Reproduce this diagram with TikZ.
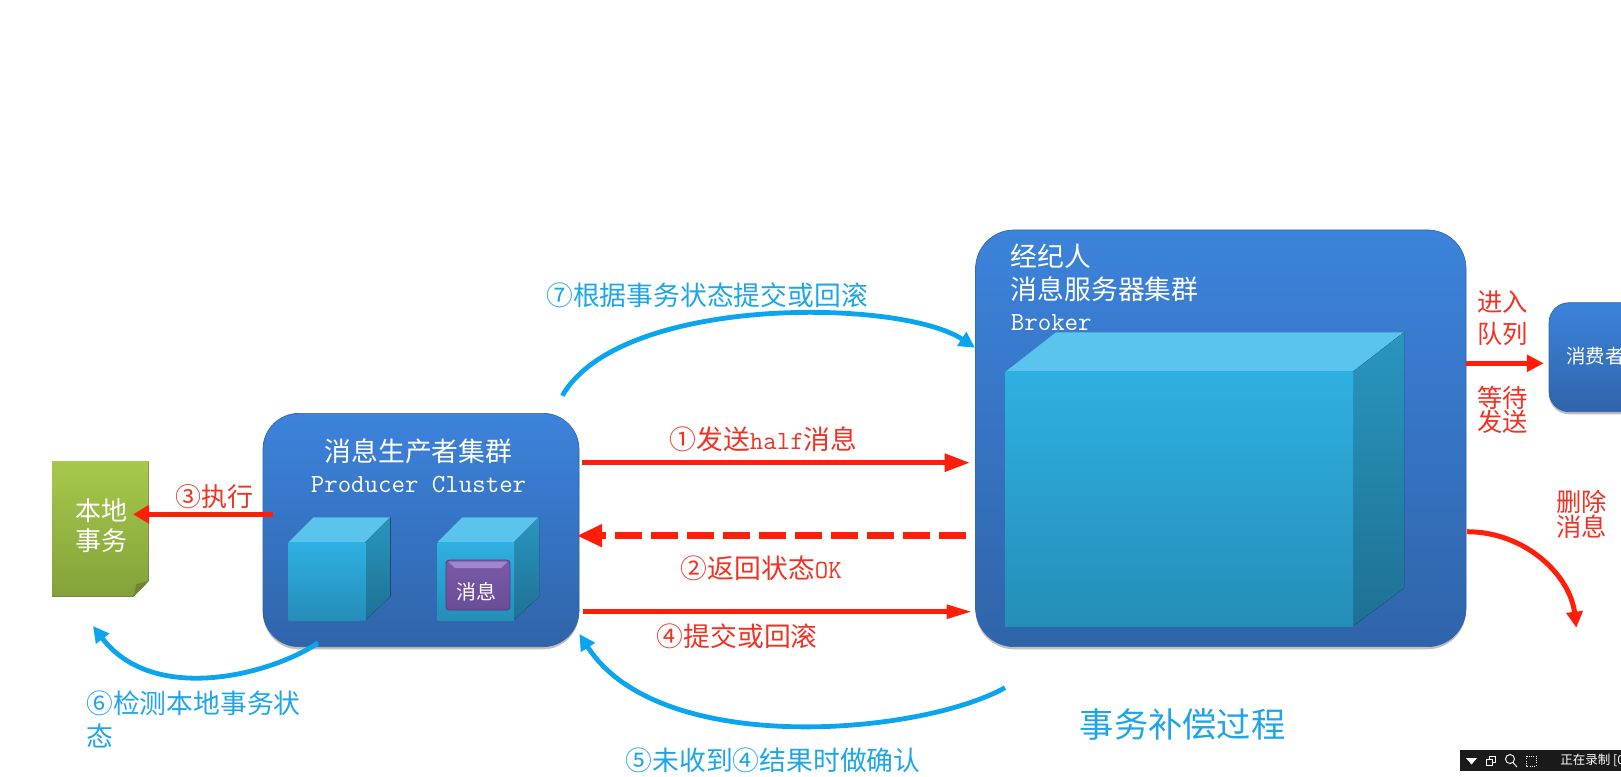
\documentclass[tikz,border=0pt]{standalone}
\usepackage{fontspec}
\usepackage{xcolor}
\usetikzlibrary{arrows.meta,shadows}
\newfontfamily\cjk{Noto Sans CJK SC}
\newcommand{\lat}[1]{{\fontsize{19.6}{24}\selectfont\ttfamily #1}}
\definecolor{boxtop}{RGB}{60,131,219}
\definecolor{boxbottom}{RGB}{47,100,170}
\definecolor{boxedge}{RGB}{46,100,172}
\definecolor{cubetop}{RGB}{91,196,236}
\definecolor{frontup}{RGB}{47,176,226}
\definecolor{frontlow}{RGB}{36,142,184}
\definecolor{sideup}{RGB}{41,150,190}
\definecolor{sidelow}{RGB}{30,112,148}
\definecolor{pagetop}{RGB}{166,201,75}
\definecolor{pagebottom}{RGB}{131,162,58}
\definecolor{pagefold}{RGB}{110,135,48}
\definecolor{msgtop}{RGB}{122,90,168}
\definecolor{msgbottom}{RGB}{106,76,152}
\definecolor{msgedge}{RGB}{80,60,125}
\definecolor{msgbevel}{RGB}{160,135,205}
\definecolor{barblack}{RGB}{26,26,26}
\definecolor{arrowred}{RGB}{255,30,10}
\definecolor{arrowblue}{RGB}{10,165,238}
\definecolor{labelred}{RGB}{240,50,35}
\definecolor{labelblue}{RGB}{30,165,232}
\tikzset{
  bluebox/.style={rectangle,inner sep=0pt,draw=boxedge,line width=0.5pt,top color=boxtop,bottom color=boxbottom,
    drop shadow={shadow xshift=0pt,shadow yshift=-2pt,opacity=0.25,fill=black}},
  cubefront/.style={top color=frontup,bottom color=frontlow},
  cubeface/.style={fill=cubetop},
  cubeside/.style={top color=sideup,bottom color=sidelow},
  redline/.style n args={3}{draw=arrowred,line width=#1,-{Triangle[length=#2,width=#3]}},
  blueline/.style={draw=arrowblue,line width=3.6pt,-{Triangle[length=12pt,width=12pt]}},
  whitetext/.style={inner sep=0pt,text=white,font=\cjk\fontsize{20.1}{24}\selectfont},
  redtext/.style={inner sep=0pt,text=labelred,font=\cjk\fontsize{20.1}{24}\selectfont},
  bluetext/.style={inner sep=0pt,text=labelblue,font=\cjk\fontsize{20.1}{24}\selectfont},
}
\begin{document}
\begin{tikzpicture}[x=0.75pt,y=0.75pt,yscale=-1,xscale=1]
\useasboundingbox (0,0) rectangle (1621,776);
\clip (0,0) rectangle (1621,776);

%Shape: Local transaction page
\fill [top color=pagetop,bottom color=pagebottom] (52,461) -- (148.7,461) -- (148.7,581) -- (133.2,596.7) -- (52,596.7) -- cycle ;
\fill [color=pagefold] (148.7,581) -- (136.4,584) -- (133.2,596.7) -- cycle ;
\node (localtx) at (100.3,529) [minimum width=72.5pt,minimum height=102pt,inner sep=0pt] {};

%Shape: Producer box
\node (producer) at (421,530) [bluebox,rounded corners=27pt,minimum width=237pt,minimum height=175pt] {};
%Shape: Broker box
\node (broker) at (1220.8,438.3) [bluebox,rounded corners=29pt,minimum width=367.8pt,minimum height=312.5pt] {};
%Shape: Consumer box
\node (consumer) at (1629,357.2) [bluebox,rounded corners=15pt,minimum width=120pt,minimum height=81.75pt] {};

%Shape: Producer cubes
\foreach \cx in {288.6,437.3} {
  \fill [cubeface] (\cx,542.3) -- (\cx+25,517.3) -- (\cx+101.7,517.3) -- (\cx+76.7,542.3) -- cycle ;
  \fill [cubeside] (\cx+76.7,542.3) -- (\cx+101.7,517.3) -- (\cx+101.7,596.7) -- (\cx+76.7,620) -- cycle ;
  \fill [cubefront] (\cx,542.3) rectangle (\cx+76.7,620) ;
}
%Shape: Broker cube
\fill [cubeface] (1005.5,371.7) -- (1056,332.3) -- (1404,332.3) -- (1353,371.7) -- cycle ;
\fill [cubeside] (1353,371.7) -- (1404,332.3) -- (1404,588.3) -- (1353,626) -- cycle ;
\fill [cubefront] (1005.5,371.7) rectangle (1353,626) ;

%Shape: Message box
\node (msgbox) at (478,585) [rectangle,inner sep=0pt,rounded corners=2.5pt,minimum width=48pt,minimum height=37.5pt,draw=msgedge,line width=0.6pt,top color=msgtop,bottom color=msgbottom] {};
\fill [color=msgbevel] (448,561.5) -- (508,561.5) -- (501,568) -- (455,568) -- cycle ;

%Straight Lines
\coordinate (halfrow) at (0,462.7);
\coordinate (okrow) at (0,535.7);
\coordinate (commitrow) at (0,611.7);
\coordinate (execrow) at (0,514.3);
\coordinate (queuerow) at (0,363.3);
\draw [redline={3.75pt}{19pt}{13pt}] ([xshift=2pt]producer.east |- halfrow) -- ([xshift=-4pt]broker.west |- halfrow) ;
\draw [redline={5.25pt}{19pt}{16pt},dash pattern=on 20.25pt off 6.75pt] ([xshift=-6.7pt]broker.west |- okrow) -- ([xshift=-2pt]producer.east |- okrow) ;
\draw [redline={3.4pt}{19pt}{10pt}] ([xshift=2.8pt]producer.east |- commitrow) -- ([xshift=-2.5pt]broker.west |- commitrow) ;
\draw [redline={3.75pt}{12pt}{13.5pt}] ([xshift=7.5pt]producer.west |- execrow) -- ([xshift=-11.8pt]localtx.east |- execrow) ;
\draw [redline={3.75pt}{12.75pt}{12.5pt}] (broker.east |- queuerow) -- ([xshift=-3.7pt]consumer.west |- queuerow) ;

%Curved Lines
\coordinate (removestart) at (1467,531.7);
\coordinate (removeend) at (1576.4,627.7);
\draw [redline={3.75pt}{12pt}{12pt}] (removestart) .. controls (1525,531.7) and (1570,575) .. (removeend) ;
\coordinate (pushstart) at (562.3,395.7);
\coordinate (pushend) at (975,347.7);
\draw [blueline] (pushstart) .. controls (620,295) and (900,298) .. (pushend) ;
\coordinate (confirmstart) at (1005,687.7);
\coordinate (confirmend) at (579.4,634);
\draw [blueline] (confirmstart) .. controls (920,735) and (659,758) .. (confirmend) ;
\coordinate (checkstart) at (318,643);
\coordinate (checkend) at (93,626);
\draw [blueline] (checkstart) .. controls (270,675) and (153,705) .. (checkend) ;

%Shape: Recorder bar
\fill [color=barblack] (1460,750) rectangle (1621,770.7) ;
\fill [white] (1466,758) -- (1477,758) -- (1471.5,764.5) -- cycle ;
\draw [white,line width=0.7pt] (1486,759) rectangle (1492,765) (1489,759) -- (1489,756) -- (1495,756) -- (1495,762) -- (1492,762) ;
\draw [white,line width=0.7pt] (1510,759) circle (4.5) (1513,762.5) -- (1517,767) ;
\draw [white,line width=0.7pt,densely dotted] (1526,756) rectangle (1536,766) ;

% Text Node
\node (producertitle) at (418.5,451.7) [whitetext] {消息生产者集群};
% Text Node
\node (producername) at (418.5,485) [whitetext] {\lat{Producer Cluster}};
% Text Node
\node (brokerrole) at (1010.6,256.7) [whitetext,anchor=west] {经纪人};
% Text Node
\node (brokertitle) at (1010.6,289) [whitetext,anchor=west] {消息服务器集群};
% Text Node
\node (brokername) at (1010.6,322.7) [whitetext,anchor=west] {\lat{Broker}};
% Text Node
\node (localtitle) at (101,525.7) [whitetext,align=center,font=\cjk\fontsize{19.5}{22.5}\selectfont] {本地\\事务};
% Text Node
\node (msgtext) at (476.5,591.7) [whitetext,font=\cjk\fontsize{15}{18}\selectfont] {消息};
% Text Node
\node (consumertext) at (1566,355.7) [whitetext,anchor=west,font=\cjk\fontsize{14.6}{18}\selectfont] {消费者};
% Text Node
\node (execlabel) at (175,497) [redtext,anchor=west,font=\cjk\fontsize{19.5}{24}\selectfont] {③执行};
% Text Node
\node (halflabel) at (669.3,439) [redtext,anchor=west] {①发送\lat{half}消息};
% Text Node
\node (oklabel) at (680.7,568.3) [redtext,anchor=west] {②返回状态\lat{OK}};
% Text Node
\node (commitlabel) at (656.7,636) [redtext,anchor=west] {④提交或回滚};
% Text Node
\node (queuelabel) at (1502.6,318.3) [redtext,align=center,font=\cjk\fontsize{19}{23.5}\selectfont] {进入\\队列};
% Text Node
\node (waitlabel) at (1502.6,410) [redtext,align=center,font=\cjk\fontsize{19}{17.8}\selectfont] {等待\\发送};
% Text Node
\node (removelabel) at (1581.8,514) [redtext,align=center,font=\cjk\fontsize{19}{16.5}\selectfont] {删除\\消息};
% Text Node
\node (pushlabel) at (546,295) [bluetext,anchor=west] {⑦根据事务状态提交或回滚};
% Text Node
\node (confirmlabel) at (625.4,760) [bluetext,anchor=west] {⑤未收到④结果时做确认};
% Text Node
\node (checklabel) at (86,703) [bluetext,anchor=west] {⑥检测本地事务状};
% Text Node
\node (checkwrap) at (86,736) [bluetext,anchor=west] {态};
% Text Node
\node (processtitle) at (1182.6,724) [bluetext,font=\cjk\fontsize{25.7}{30}\selectfont] {事务补偿过程};
% Text Node
\node (recording) at (1560,760.5) [inner sep=0pt,anchor=west,text=white,font=\cjk\fontsize{9.4}{11}\selectfont] {正在录制 [0};

\end{tikzpicture}
\end{document}
